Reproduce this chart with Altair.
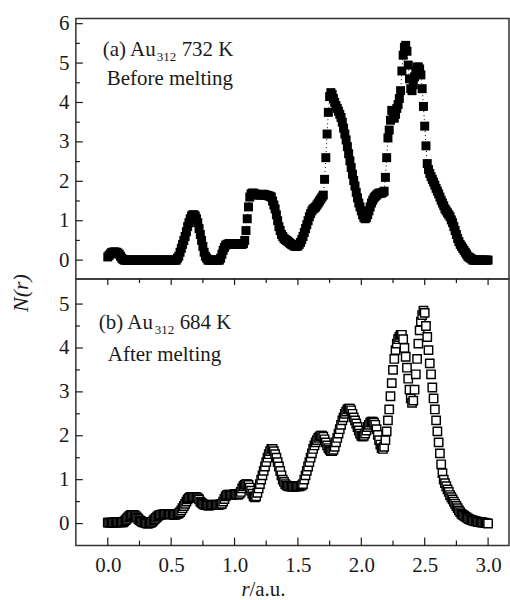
import altair as alt
import pandas as pd

FONT = "Liberation Serif"
INK = "#1a1a1a"

# sampling of r (a.u.)
R_START = 0.0
R_STEP = 0.01

# (a) Au312 732 K, before melting -- N(r), r = 0.00 ... 3.00
N_TOP = [
    0.08, 0.12, 0.16, 0.19, 0.2, 0.21, 0.2, 0.2, 0.18, 0.15, 0.1, 0.05, 0.02,
    0, 0, 0, 0, 0, 0, 0, 0, 0, 0, 0, 0, 0, 0, 0, 0, 0, 0, 0, 0, 0,
    0, 0, 0, 0, 0, 0, 0, 0, 0, 0, 0, 0, 0, 0, 0, 0, 0, 0, 0, 0, 0,
    0.05, 0.1, 0.2, 0.3, 0.4, 0.5, 0.6, 0.72, 0.85, 0.95, 1.05, 1.12, 1.15,
    1.15, 1.12, 1.05, 0.95, 0.8, 0.65, 0.5, 0.35, 0.2, 0.1, 0.05,
    0, 0, 0, 0, 0, 0, 0, 0, 0, 0,
    0.05, 0.15, 0.25, 0.32, 0.38,
    0.4, 0.41, 0.42, 0.42, 0.41, 0.4, 0.4, 0.41, 0.42, 0.42, 0.41, 0.4, 0.4, 0.42,
    0.5, 0.75, 1.05, 1.35, 1.6, 1.68,
    1.7, 1.7, 1.68, 1.67, 1.66, 1.65, 1.65, 1.66, 1.67, 1.67, 1.66, 1.65, 1.64, 1.63, 1.62,
    1.6, 1.5, 1.4, 1.3, 1.15, 1.0, 0.85, 0.75, 0.65, 0.6, 0.55, 0.52, 0.5, 0.48,
    0.45, 0.42, 0.4, 0.38, 0.36, 0.35, 0.35, 0.36, 0.4, 0.45, 0.52, 0.6, 0.7, 0.8,
    0.9, 1.0, 1.1, 1.18, 1.25, 1.3, 1.32, 1.35, 1.4, 1.45, 1.5, 1.55, 1.6, 1.65,
    2.05, 2.6, 3.2, 3.75, 4.15, 4.25, 4.2, 4.1, 4.0, 3.92, 3.85, 3.78, 3.7, 3.62,
    3.5, 3.35, 3.2, 3.05, 2.88, 2.7, 2.52, 2.35, 2.18, 2.02, 1.88, 1.72, 1.58, 1.45,
    1.35, 1.25, 1.15, 1.08, 1.05, 1.08, 1.15, 1.25, 1.35, 1.45, 1.52, 1.58, 1.62,
    1.65, 1.68, 1.7, 1.7, 1.7, 1.72,
    1.75, 2.1, 2.6, 3.1, 3.3, 3.55, 3.8, 3.75, 3.6, 3.7, 3.85, 3.95, 4.1, 4.3,
    4.8, 5.2, 5.4, 5.45, 5.3, 4.95, 4.6, 4.35, 4.3, 4.45, 4.65, 4.8, 4.9, 4.9,
    4.85, 4.7, 4.35, 3.9, 3.4, 2.9, 2.45, 2.3, 2.2, 2.12, 2.05, 1.98, 1.9, 1.82,
    1.75, 1.68, 1.6, 1.52, 1.45, 1.38, 1.3, 1.25, 1.2, 1.15, 1.1, 1.02, 0.95, 0.85,
    0.75, 0.65, 0.55, 0.47, 0.4, 0.35, 0.3, 0.25, 0.2, 0.15, 0.1, 0.07, 0.05, 0.03,
    0, 0, 0, 0, 0, 0, 0, 0, 0, 0, 0, 0, 0,
]

# (b) Au312 684 K, after melting -- N(r), r = 0.00 ... 3.00
N_BOTTOM = [
    0.02, 0.02, 0.02, 0.02, 0.02, 0.02, 0.03, 0.03, 0.03, 0.03, 0.03, 0.03, 0.03,
    0.05, 0.08, 0.11, 0.14, 0.17, 0.19, 0.2, 0.2, 0.19, 0.17, 0.14, 0.11, 0.08, 0.06, 0.04, 0.03,
    0.02, 0.01, 0.0, 0.0, 0.01, 0.02,
    0.04, 0.07, 0.1, 0.13, 0.16, 0.18,
    0.2, 0.2, 0.21, 0.21, 0.22, 0.22, 0.22, 0.22, 0.21, 0.21, 0.21, 0.2, 0.2, 0.21, 0.22, 0.23,
    0.26, 0.3, 0.35, 0.4, 0.45, 0.5, 0.55, 0.58,
    0.6, 0.6, 0.61, 0.61, 0.6, 0.6,
    0.58, 0.55, 0.5, 0.47, 0.45,
    0.43, 0.42, 0.42, 0.41, 0.41, 0.42, 0.42, 0.43, 0.43, 0.42, 0.42, 0.42, 0.43, 0.44, 0.45,
    0.5, 0.56, 0.62,
    0.65, 0.66, 0.66, 0.65, 0.65, 0.66, 0.67, 0.67, 0.66, 0.66, 0.68,
    0.72, 0.8, 0.85, 0.88, 0.9, 0.9, 0.88,
    0.82, 0.75, 0.68, 0.62, 0.6, 0.62,
    0.7, 0.8, 0.9, 1.0, 1.1, 1.2, 1.3, 1.4, 1.5, 1.58, 1.65, 1.7, 1.7,
    1.65, 1.58, 1.5, 1.4, 1.3, 1.2, 1.1, 1.0, 0.95, 0.9,
    0.87, 0.86, 0.85, 0.85, 0.84, 0.84, 0.84, 0.84, 0.85, 0.85, 0.85, 0.86, 0.87,
    0.9, 1.0, 1.1, 1.2, 1.3, 1.4, 1.5, 1.6, 1.7, 1.78, 1.85, 1.9, 1.95, 1.98, 2.0, 2.0, 1.98,
    1.92, 1.85, 1.78, 1.72, 1.68, 1.65, 1.65, 1.68, 1.75, 1.85, 1.95, 2.05, 2.15, 2.25,
    2.35, 2.42, 2.5, 2.55, 2.6, 2.62, 2.62,
    2.58, 2.5, 2.42, 2.35, 2.28, 2.2, 2.12, 2.05, 2.0, 1.98, 2.0, 2.05, 2.12, 2.2,
    2.25, 2.3, 2.32, 2.32, 2.3, 2.25, 2.15, 2.02, 1.9, 1.8, 1.72, 1.7,
    1.75, 1.9, 2.1, 2.35, 2.6, 2.9, 3.2, 3.5, 3.75, 3.95, 4.1, 4.2, 4.25, 4.3, 4.3,
    4.2, 4.0, 3.8, 3.55, 3.3, 3.05, 2.85, 2.75, 2.8, 3.05, 3.4, 3.75, 4.1, 4.4, 4.6,
    4.75, 4.85, 4.8,
    4.5, 4.25, 3.95, 3.65, 3.4, 3.1, 2.85, 2.6, 2.35, 2.1, 1.85, 1.6, 1.35, 1.15,
    1.0, 0.92, 0.85, 0.78, 0.72, 0.65, 0.6, 0.55, 0.5, 0.45, 0.4, 0.35, 0.3, 0.26,
    0.22, 0.2, 0.18, 0.16, 0.14, 0.12, 0.1, 0.09, 0.08, 0.07, 0.06, 0.05,
    0.05, 0.04, 0.04, 0.03, 0.03, 0.02, 0.02, 0.01, 0.01, 0.0,
]

X_MAJOR = [0.0, 0.5, 1.0, 1.5, 2.0, 2.5, 3.0]
X_MINOR = [0.25, 0.75, 1.25, 1.75, 2.25, 2.75]
Y_TOP_MAJOR = [0, 1, 2, 3, 4, 5, 6]
Y_TOP_MINOR = [0.5, 1.5, 2.5, 3.5, 4.5, 5.5]
Y_BOT_MAJOR = [0, 1, 2, 3, 4, 5]
Y_BOT_MINOR = [0.5, 1.5, 2.5, 3.5, 4.5]

r_top = [round(R_START + i * R_STEP, 2) for i in range(len(N_TOP))]
r_bot = [round(R_START + i * R_STEP, 2) for i in range(len(N_BOTTOM))]
df_top = pd.DataFrame({"r": r_top, "n": N_TOP})
df_bot = pd.DataFrame({"r": r_bot, "n": N_BOTTOM})
one = pd.DataFrame({"k": [0]})

W = 434
H_TOP = 261
H_BOT = 267

xscale = alt.Scale(domain=[-0.252, 3.165], nice=False, zero=False)
ytop = alt.Scale(domain=[-0.48, 6.13], nice=False, zero=False)
ybot = alt.Scale(domain=[-0.5, 5.57], nice=False, zero=False)


def yaxis(values):
    return alt.Axis(values=values, format="d", title=None, grid=False, ticks=False,
                    tickSize=0, domain=False, labelPadding=7, labelFont=FONT,
                    labelFontSize=21, labelColor=INK)


X_AXIS_BOTTOM = alt.Axis(values=X_MAJOR, format=".1f", title=None, grid=False, ticks=False,
                         tickSize=0, domain=False, labelPadding=9, labelFont=FONT,
                         labelFontSize=21, labelColor=INK)
Y_AXIS_TOP = yaxis(Y_TOP_MAJOR)
Y_AXIS_BOT = yaxis(Y_BOT_MAJOR)


def label(text, x, y, size=21, style="normal", align="left", angle=0, baseline="alphabetic"):
    return alt.Chart(one).mark_text(
        text=text, font=FONT, fontSize=size, fontStyle=style, align=align,
        baseline=baseline, angle=angle, color=INK,
    ).encode(x=alt.value(x), y=alt.value(y))


def yticks(values, scale, axis, length):
    return alt.Chart(pd.DataFrame({"n": values})).mark_rule(color=INK, strokeWidth=1.2).encode(
        y=alt.Y("n:Q", scale=scale, axis=axis), x=alt.value(0), x2=alt.value(length))


def xticks(values, axis, y0, y1):
    return alt.Chart(pd.DataFrame({"r": values})).mark_rule(color=INK, strokeWidth=1.2).encode(
        x=alt.X("r:Q", scale=xscale, axis=axis), y=alt.value(y0), y2=alt.value(y1))


# ---- top panel
line_top = alt.Chart(df_top).mark_line(color="black", strokeWidth=1, strokeDash=[1, 3]).encode(
    x=alt.X("r:Q", scale=xscale, axis=None),
    y=alt.Y("n:Q", scale=ytop, axis=Y_AXIS_TOP),
)
pts_top = alt.Chart(df_top).mark_square(size=81, color="black", opacity=1).encode(
    x=alt.X("r:Q", scale=xscale, axis=None),
    y=alt.Y("n:Q", scale=ytop, axis=Y_AXIS_TOP),
)
top = alt.layer(
    line_top, pts_top,
    yticks(Y_TOP_MAJOR, ytop, Y_AXIS_TOP, 7), yticks(Y_TOP_MINOR, ytop, Y_AXIS_TOP, 4),
    label("(a) Au", 27, 38), label("312", 81, 43, size=13), label("732 K", 106, 38),
    label("Before melting", 31, 67),
    label("N(r)", -55, 275, size=22, style="italic", align="center", angle=270, baseline="middle"),
).properties(width=W, height=H_TOP)

# ---- bottom panel
pts_bot = alt.Chart(df_bot).mark_square(size=70, filled=True, fill="white", stroke="black",
                                        strokeWidth=1.45, opacity=1).encode(
    x=alt.X("r:Q", scale=xscale, axis=X_AXIS_BOTTOM),
    y=alt.Y("n:Q", scale=ybot, axis=Y_AXIS_BOT),
)
bottom = alt.layer(
    pts_bot,
    yticks(Y_BOT_MAJOR, ybot, Y_AXIS_BOT, 7), yticks(Y_BOT_MINOR, ybot, Y_AXIS_BOT, 4),
    xticks(X_MAJOR, X_AXIS_BOTTOM, H_BOT, H_BOT - 8), xticks(X_MINOR, X_AXIS_BOTTOM, H_BOT, H_BOT - 5),
    xticks(X_MAJOR, X_AXIS_BOTTOM, 0, 6), xticks(X_MINOR, X_AXIS_BOTTOM, 0, 4),
    label("(b) Au", 23, 50), label("312", 79, 55, size=13), label("684 K", 104, 50),
    label("After melting", 32, 82),
    label("r", 166, 318, size=21, style="italic"),
    label("/a.u.", 174, 318, size=21),
).properties(width=W, height=H_BOT)

chart = alt.vconcat(top, bottom, spacing=0, bounds="flush").properties(
    padding={"left": 9, "top": 11, "right": 0, "bottom": 0},
    background="white",
).configure_view(stroke="#333", strokeWidth=1.5)

chart.save("out.html", embed_options={"renderer": "svg", "actions": False})
